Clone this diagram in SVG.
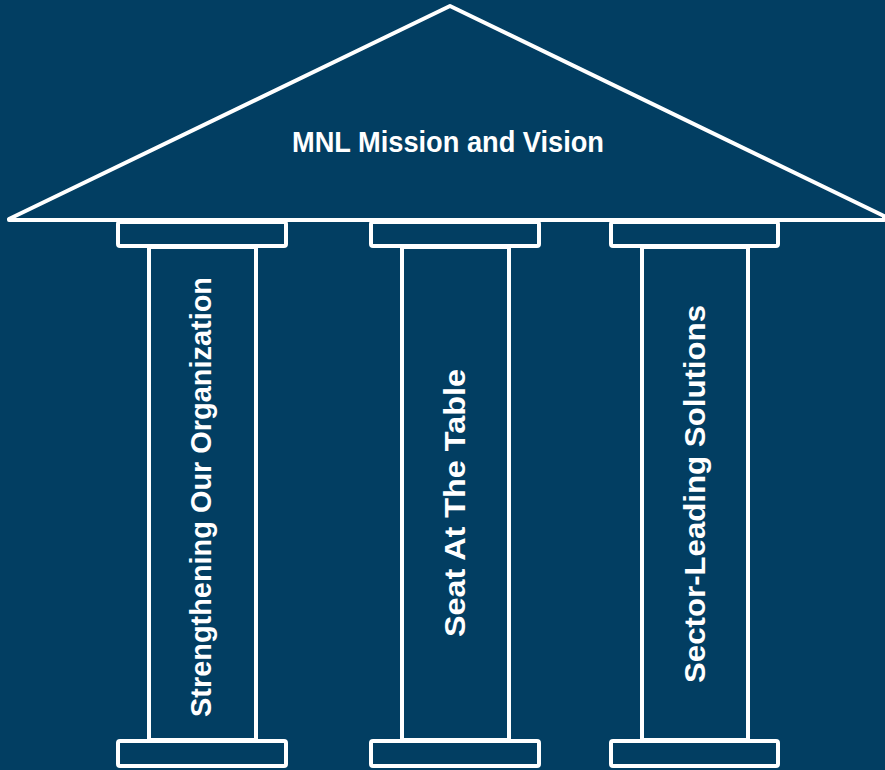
<svg xmlns="http://www.w3.org/2000/svg" width="885" height="770" viewBox="0 0 885 770">
<style>
.ln{fill:none;stroke:#ffffff;stroke-width:4;stroke-linejoin:round;stroke-linecap:round}
.t{font-family:"Liberation Sans",Arial,sans-serif;font-weight:bold;font-size:30px;fill:#ffffff;text-anchor:middle}
</style>
<rect width="885" height="770" fill="#023E62"/>
<g id="roof">
<polygon class="ln" points="9,219 450,6 884,216 884,220 9,220"/>
<text class="t" x="448" y="152" textLength="312" lengthAdjust="spacingAndGlyphs">MNL Mission and Vision</text>
</g>
<g id="pillar1">
<rect class="ln" x="118" y="222" width="168" height="24" rx="2"/>
<rect class="ln" x="149" y="247" width="107" height="493"/>
<rect class="ln" x="118" y="741" width="168" height="25" rx="2"/>
<text class="t" transform="translate(211,497) rotate(-90)" textLength="440" lengthAdjust="spacingAndGlyphs">Strengthening Our Organization</text>
</g>
<g id="pillar2">
<rect class="ln" x="371" y="222" width="168" height="24" rx="2"/>
<rect class="ln" x="402" y="247" width="107" height="493"/>
<rect class="ln" x="371" y="741" width="168" height="25" rx="2"/>
<text class="t" transform="translate(465,503) rotate(-90)" textLength="268" lengthAdjust="spacingAndGlyphs">Seat At The Table</text>
</g>
<g id="pillar3">
<rect class="ln" x="611" y="222" width="167" height="24" rx="2"/>
<rect class="ln" x="642" y="247" width="106" height="493"/>
<rect class="ln" x="611" y="741" width="167" height="25" rx="2"/>
<text class="t" transform="translate(705,494) rotate(-90)" textLength="378" lengthAdjust="spacingAndGlyphs">Sector-Leading Solutions</text>
</g>
<g id="connectors"></g>
</svg>
